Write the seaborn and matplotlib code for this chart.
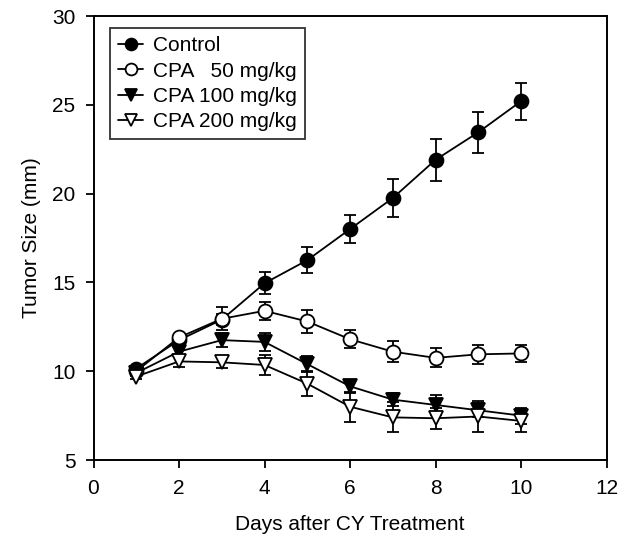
import matplotlib
matplotlib.use("Agg")
import matplotlib.pyplot as plt
import seaborn as sns
import pandas as pd

days = [1, 2, 3, 4, 5, 6, 7, 8, 9, 10]
control = [10.15, 11.75, 12.9, 14.95, 16.25, 18.0, 19.75, 21.9, 23.45, 25.2]
control_err = [0.15, 0.2, 0.3, 0.62, 0.72, 0.77, 1.08, 1.17, 1.15, 1.05]
cpa50 = [10.0, 11.9, 12.95, 13.4, 12.8, 11.8, 11.1, 10.75, 10.95, 11.0]
cpa50_err = [0.15, 0.2, 0.65, 0.5, 0.67, 0.5, 0.6, 0.53, 0.53, 0.5]
cpa100 = [9.9, 11.1, 11.75, 11.65, 10.4, 9.15, 8.4, 8.1, 7.8, 7.5]
cpa100_err = [0.15, 0.3, 0.4, 0.5, 0.43, 0.37, 0.35, 0.55, 0.4, 0.45]
cpa200 = [9.7, 10.55, 10.5, 10.35, 9.3, 8.0, 7.4, 7.35, 7.45, 7.2]
cpa200_err = [0.15, 0.3, 0.3, 0.55, 0.7, 0.85, 0.85, 0.6, 0.9, 0.6]

labels = ["Control", "CPA   50 mg/kg", "CPA 100 mg/kg", "CPA 200 mg/kg"]
x_ticks = [0, 2, 4, 6, 8, 10, 12]
y_ticks = [5, 10, 15, 20, 25, 30]

sns.set_theme(style="ticks")
plt.rcParams["font.family"] = ["Liberation Sans", "DejaVu Sans"]
plt.rcParams["text.color"] = "black"
plt.rcParams["axes.labelcolor"] = "black"
plt.rcParams["xtick.color"] = "black"
plt.rcParams["ytick.color"] = "black"

rows = []
for lab, vals, errs in zip(labels, [control, cpa50, cpa100, cpa200],
                           [control_err, cpa50_err, cpa100_err, cpa200_err]):
    for d, v, e in zip(days, vals, errs):
        rows.append({"Day": d, "Size": v, "Err": e, "Group": lab})
df = pd.DataFrame(rows)

fig = plt.figure(figsize=(6.27, 5.39), dpi=100)
ax = fig.add_axes([93.5 / 627, (539 - 460) / 539, 513 / 627, 444 / 539])

marker_of = {labels[0]: "o", labels[1]: "o", labels[2]: "v", labels[3]: "v"}
face_of = {labels[0]: "black", labels[1]: "white", labels[2]: "black", labels[3]: "white"}

handles = []
for i, lab in enumerate(labels):
    sub = df[df["Group"] == lab]
    ax.errorbar(sub["Day"], sub["Size"], yerr=sub["Err"], fmt="none",
                ecolor="black", elinewidth=1.3, capsize=4.5, capthick=1.3,
                zorder=2)
    sns.lineplot(data=sub, x="Day", y="Size", ax=ax, color="black",
                 linewidth=1.3, marker=marker_of[lab],
                 markerfacecolor=face_of[lab], markeredgecolor="black",
                 markeredgewidth=1.3, markersize=10, label=lab,
                 legend=False, zorder=3 + i)
    handles.append(ax.get_lines()[-1])

leg = ax.legend(handles=handles, labels=labels, loc="upper left",
                bbox_to_anchor=(0.032, 0.973), borderaxespad=0,
                frameon=True, fancybox=False, edgecolor="black",
                fontsize=15, handlelength=1.2, handletextpad=0.45,
                labelspacing=0.3, borderpad=0.4, markerscale=0.85)
leg.get_frame().set_linewidth(1.3)

ax.set_xlim(0, 12)
ax.set_ylim(5, 30)
ax.set_xticks(x_ticks)
ax.set_yticks(y_ticks)
ax.set_xlabel("Days after CY Treatment", fontsize=15, labelpad=12)
ax.set_ylabel("Tumor Size (mm)", fontsize=15, labelpad=8)
ax.tick_params(axis="both", direction="out", length=6, width=1.3,
               labelsize=15, color="black")
ax.tick_params(axis="x", pad=8)
ax.tick_params(axis="y", pad=7)
for s in ax.spines.values():
    s.set_visible(True)
    s.set_color("black")
    s.set_linewidth(1.4)

fig.savefig("out.png", dpi=100)
